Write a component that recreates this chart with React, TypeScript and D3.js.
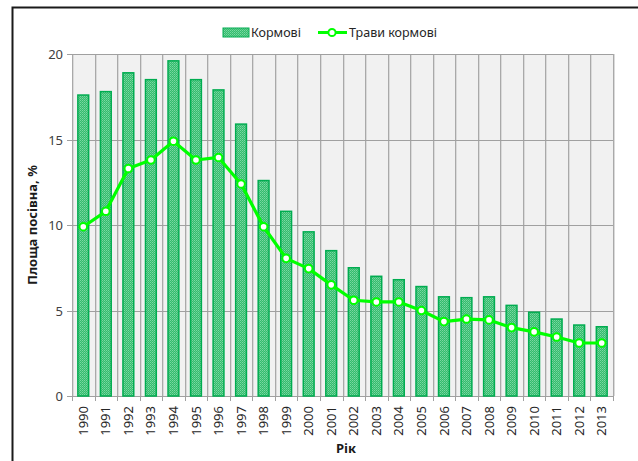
import React, { useEffect, useRef } from 'react';
import * as d3 from 'd3';

const years = [
  '1990', '1991', '1992', '1993', '1994', '1995', '1996', '1997', '1998', '1999', '2000', '2001',
  '2002', '2003', '2004', '2005', '2006', '2007', '2008', '2009', '2010', '2011', '2012', '2013',
];

// Кормові (bars)
const fodder = [
  17.6, 17.8, 18.9, 18.5, 19.6, 18.5, 17.9, 15.9, 12.6, 10.8, 9.6, 8.5,
  7.5, 7.0, 6.8, 6.4, 5.8, 5.75, 5.8, 5.3, 4.9, 4.5, 4.15, 4.05,
];

// Трави кормові (line)
const grasses = [
  9.9, 10.8, 13.3, 13.8, 14.9, 13.8, 13.95, 12.4, 9.9, 8.05, 7.45, 6.5,
  5.6, 5.5, 5.5, 5.0, 4.35, 4.5, 4.45, 4.0, 3.75, 3.45, 3.1, 3.1,
];

const yTicks = [0, 5, 10, 15, 20];

const FONT = "'Noto Sans', 'Open Sans', sans-serif";
const LINE_GREEN = '#00ff00';
const BAR_EDGE = '#00ac50';

const ComboChart: React.FC = () => {
  const svgRef = useRef<SVGSVGElement>(null);

  useEffect(() => {
    if (!svgRef.current) return;
    const svg = d3.select(svgRef.current);
    svg.selectAll('*').remove();

    const width = 638;
    const height = 461;
    const plot = { left: 72, right: 613, top: 54, bottom: 396 };

    // Bar pattern (dotted green)
    const defs = svg.append('defs');
    const pat = defs
      .append('pattern')
      .attr('id', 'dots')
      .attr('width', 2)
      .attr('height', 2)
      .attr('patternUnits', 'userSpaceOnUse');
    pat.append('rect').attr('width', 2).attr('height', 2).attr('fill', '#34bc6e');
    pat.append('rect').attr('width', 1).attr('height', 1).attr('fill', '#7ad9a2');
    pat.append('rect').attr('x', 1).attr('y', 1).attr('width', 1).attr('height', 1).attr('fill', '#5fcd8e');

    svg.append('rect').attr('width', width).attr('height', height).attr('fill', '#ffffff');

    // Outer frame
    svg
      .append('rect')
      .attr('x', 12.5)
      .attr('y', 7.5)
      .attr('width', width + 10)
      .attr('height', height + 10)
      .attr('fill', 'none')
      .attr('stroke', '#1a1a1a')
      .attr('stroke-width', 2);

    const slot = d3.scaleBand<string>().domain(years).range([plot.left, plot.right]).padding(0);
    const x = d3
      .scaleBand<string>()
      .domain(years)
      .range([plot.left, plot.right])
      .paddingInner(0.52)
      .paddingOuter(0.26);
    const y = d3.scaleLinear().domain([0, 20]).range([plot.bottom, plot.top]);

    // Plot background
    svg
      .append('rect')
      .attr('x', plot.left)
      .attr('y', plot.top)
      .attr('width', plot.right - plot.left)
      .attr('height', plot.bottom - plot.top)
      .attr('fill', '#f1f1f1');

    // Vertical gridlines at category boundaries
    const bounds = years.map((d) => slot(d)!).concat([plot.right]);
    const g = svg.append('g');
    bounds.forEach((bx) => {
      const px = Math.round(bx);
      g.append('line')
        .attr('x1', px + 1.5)
        .attr('x2', px + 1.5)
        .attr('y1', plot.top)
        .attr('y2', plot.bottom)
        .attr('stroke', '#dadada')
        .attr('stroke-width', 1);
      g.append('line')
        .attr('x1', px + 0.5)
        .attr('x2', px + 0.5)
        .attr('y1', plot.top)
        .attr('y2', plot.bottom)
        .attr('stroke', '#a9a9a9')
        .attr('stroke-width', 1);
    });

    // Horizontal gridlines, y ticks and labels
    yTicks.forEach((t) => {
      const py = Math.round(y(t)) + 0.5;
      g.append('line')
        .attr('x1', plot.left - 5)
        .attr('x2', plot.right)
        .attr('y1', py)
        .attr('y2', py)
        .attr('stroke', '#a0a0a0')
        .attr('stroke-width', 1);
      g.append('text')
        .attr('x', plot.left - 9)
        .attr('y', py)
        .attr('dy', '0.35em')
        .attr('text-anchor', 'end')
        .style('font-family', FONT)
        .style('font-size', '13px')
        .style('fill', '#404040')
        .text(t);
    });

    // X ticks
    bounds.forEach((bx) => {
      const px = Math.round(bx) + 0.5;
      g.append('line')
        .attr('x1', px)
        .attr('x2', px)
        .attr('y1', plot.bottom)
        .attr('y2', plot.bottom + 5)
        .attr('stroke', '#a0a0a0');
    });

    // Bars
    svg
      .append('g')
      .selectAll('rect')
      .data(years)
      .enter()
      .append('rect')
      .attr('x', (d) => x(d)!)
      .attr('y', (d, i) => y(fodder[i]))
      .attr('width', x.bandwidth())
      .attr('height', (d, i) => y(0) - y(fodder[i]))
      .attr('fill', 'url(#dots)')
      .attr('stroke', BAR_EDGE)
      .attr('stroke-width', 1.5);

    // Line
    const cx = (d: string) => slot(d)! + slot.bandwidth() / 2;
    const line = d3
      .line<number>()
      .x((d, i) => cx(years[i]))
      .y((d) => y(d));

    svg
      .append('path')
      .datum(grasses)
      .attr('d', line)
      .attr('fill', 'none')
      .attr('stroke', LINE_GREEN)
      .attr('stroke-width', 3.2)
      .attr('stroke-linejoin', 'round');

    svg
      .append('g')
      .selectAll('circle')
      .data(grasses)
      .enter()
      .append('circle')
      .attr('cx', (d, i) => cx(years[i]))
      .attr('cy', (d) => y(d))
      .attr('r', 3.8)
      .attr('fill', '#ffffff')
      .attr('stroke', LINE_GREEN)
      .attr('stroke-width', 2);

    // X tick labels (rotated)
    svg
      .append('g')
      .selectAll('text')
      .data(years)
      .enter()
      .append('text')
      .attr('transform', (d) => `translate(${cx(d)},${plot.bottom + 10}) rotate(-90)`)
      .attr('dy', '0.35em')
      .attr('text-anchor', 'end')
      .style('font-family', FONT)
      .style('font-size', '13px')
      .style('fill', '#262626')
      .text((d) => d);

    // Axis titles
    svg
      .append('text')
      .attr('x', 346)
      .attr('y', 453)
      .attr('text-anchor', 'middle')
      .style('font-family', FONT)
      .style('font-size', '13px')
      .style('font-weight', 'bold')
      .style('fill', '#1a1a1a')
      .text('Рік');

    svg
      .append('text')
      .attr('transform', `translate(37,${(plot.top + plot.bottom) / 2}) rotate(-90)`)
      .attr('text-anchor', 'middle')
      .style('font-family', FONT)
      .style('font-size', '13px')
      .style('font-weight', 'bold')
      .style('fill', '#1a1a1a')
      .text('Площа посівна, %');

    // Legend
    const lg = svg.append('g');
    lg.append('rect')
      .attr('x', 223)
      .attr('y', 28)
      .attr('width', 26)
      .attr('height', 9)
      .attr('fill', 'url(#dots)')
      .attr('stroke', BAR_EDGE)
      .attr('stroke-width', 1);
    lg.append('text')
      .attr('x', 251)
      .attr('y', 33)
      .attr('dy', '0.35em')
      .style('font-family', FONT)
      .style('font-size', '12.5px')
      .style('fill', '#262626')
      .text('Кормові');
    lg.append('line')
      .attr('x1', 318)
      .attr('x2', 347)
      .attr('y1', 32.5)
      .attr('y2', 32.5)
      .attr('stroke', LINE_GREEN)
      .attr('stroke-width', 3);
    lg.append('circle')
      .attr('cx', 332)
      .attr('cy', 32.5)
      .attr('r', 3.6)
      .attr('fill', '#ffffff')
      .attr('stroke', LINE_GREEN)
      .attr('stroke-width', 2);
    lg.append('text')
      .attr('x', 349)
      .attr('y', 33)
      .attr('dy', '0.35em')
      .style('font-family', FONT)
      .style('font-size', '12.5px')
      .style('fill', '#262626')
      .text('Трави кормові');
  }, []);

  return <svg ref={svgRef} width={638} height={461} style={{ position: 'absolute', left: 0, top: 0 }} />;
};

export default function App() {
  return <ComboChart />;
}
